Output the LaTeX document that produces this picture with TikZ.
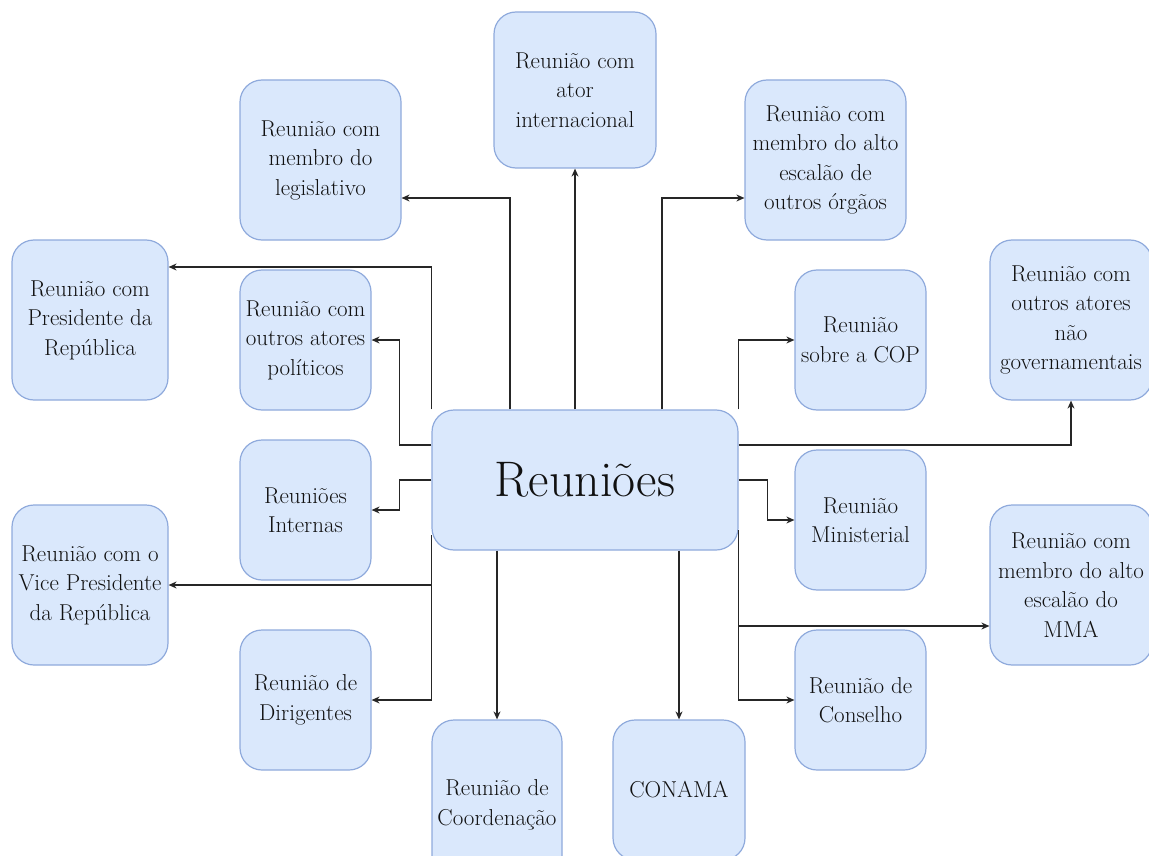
\documentclass[tikz,border=0pt]{standalone}
\usetikzlibrary{arrows.meta}
\definecolor{boxfill}{HTML}{DAE8FC}
\definecolor{boxline}{HTML}{8FAADC}
\definecolor{txt}{HTML}{111111}
\tikzset{
  box/.style={draw=boxline, fill=boxfill, line width=1.2pt, rounded corners=22pt,
    align=center, inner sep=0pt, text=txt, font=\rmfamily\fontsize{23}{29.5}\selectfont},
  arr/.style={draw=black!85, line width=1.2pt, -{Stealth[length=8pt,width=7pt]}}
}
\begin{document}
\begin{tikzpicture}[x=1pt,y=-1pt]
\useasboundingbox (0,0) rectangle (1149,856);
\clip (0,0) rectangle (1149,856);
% nodes
\node[box, minimum width=306pt, minimum height=140pt, font=\rmfamily\fontsize{50}{56}\selectfont] (cen) at (585,480) {Reuniões};
\node[box, minimum width=162pt, minimum height=156pt] (intl) at (575,90) {Reunião com\\ator\\internacional};
\node[box, minimum width=161pt, minimum height=160pt] (leg) at (320.5,160) {Reunião com\\membro do\\legislativo};
\node[box, minimum width=156pt, minimum height=160pt] (pres) at (90,320) {Reunião com\\Presidente da\\República};
\node[box, minimum width=131pt, minimum height=140pt] (pol) at (305.5,340) {Reunião com\\outros atores\\políticos};
\node[box, minimum width=131pt, minimum height=140pt] (int) at (305.5,510) {Reuniões\\Internas};
\node[box, minimum width=156pt, minimum height=160pt] (vice) at (90,585) {Reunião com o\\Vice Presidente\\da República};
\node[box, minimum width=131pt, minimum height=140pt] (dir) at (305.5,700) {Reunião de\\Dirigentes};
\node[box, minimum width=130pt, minimum height=170pt] (coord) at (497,805) {Reunião de\\Coordenação};
\node[box, minimum width=132pt, minimum height=140pt] (conama) at (679,790) {CONAMA};
\node[box, minimum width=131pt, minimum height=140pt] (cons) at (860.5,700) {Reunião de\\Conselho};
\node[box, minimum width=131pt, minimum height=140pt] (min) at (860.5,520) {Reunião\\Ministerial};
\node[box, minimum width=162pt, minimum height=160pt] (mma) at (1071,585) {Reunião com\\membro do alto\\escalão do\\MMA};
\node[box, minimum width=162pt, minimum height=160pt] (ng) at (1071,320) {Reunião com\\outros atores\\não\\governamentais};
\node[box, minimum width=131pt, minimum height=140pt] (cop) at (860.5,340) {Reunião\\sobre a COP};
\node[box, minimum width=161pt, minimum height=160pt] (org) at (825.5,160) {Reunião com\\membro do alto\\escalão de\\outros órgãos};
% helper coordinates
\coordinate (legin) at ([yshift=-38pt]leg.east);
\coordinate (orgin) at ([yshift=-38pt]org.west);
\coordinate (presin) at ([yshift=53pt]pres.east);
\coordinate (mmain) at ([yshift=-41pt]mma.west);
% connectors
\draw[arr] ([xshift=-75pt]cen.north) |- (legin);
\draw[arr] ([xshift=-10pt]cen.north) -- (intl.south);
\draw[arr] ([xshift=77pt]cen.north) |- (orgin);
\draw[arr] (cen.north east) |- (cop.west);
\draw[arr] (cen.north west) |- (presin);
\draw[arr] ([yshift=35pt]cen.west) -- ++(-32pt,0) |- (pol.east);
\draw[arr] (cen.west) -- ++(-32pt,0) |- (int.east);
\draw[arr] ([yshift=-55pt]cen.west) |- (dir.east);
\draw[arr] (vice.east -| cen.west) -- (vice.east);
\draw[arr] ([xshift=-88pt]cen.south) -- (coord.north);
\draw[arr] ([xshift=94pt]cen.south) -- (conama.north);
\draw[arr] ([yshift=35pt]cen.east) -| (ng.south);
\draw[arr] (cen.east) -- ++(29pt,0) |- (min.west);
\draw[arr] ([yshift=-50pt]cen.east) |- (cons.west);
\draw[arr] (mmain -| cen.east) -- (mmain);
\end{tikzpicture}
\end{document}
